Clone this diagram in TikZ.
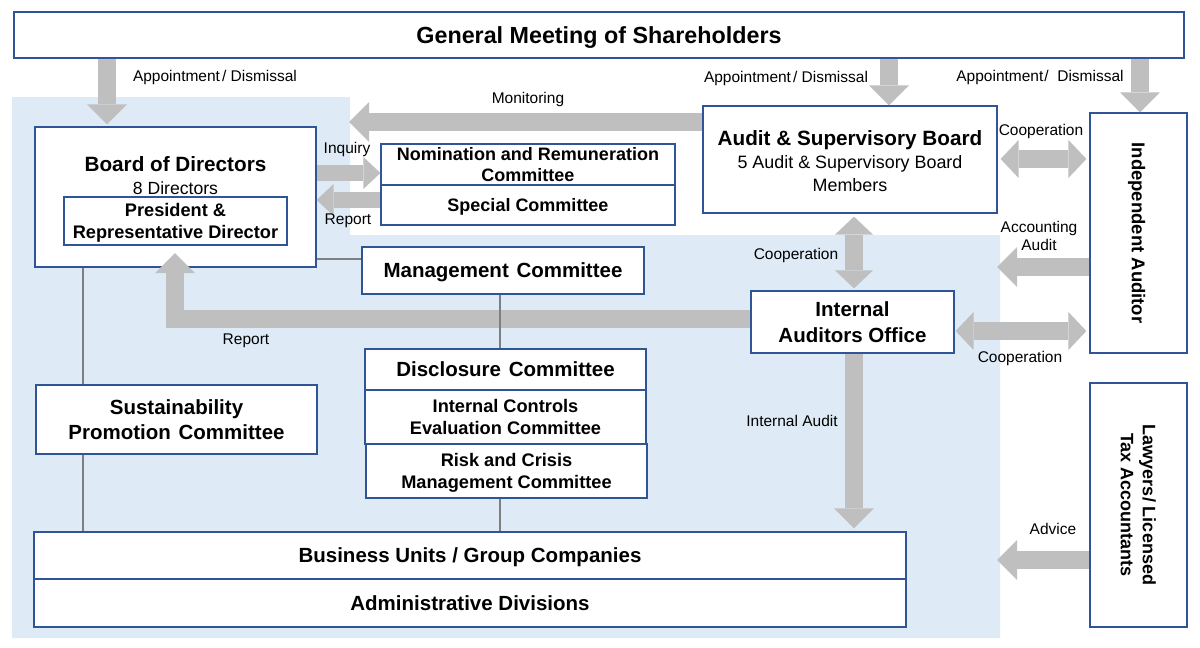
\documentclass[tikz,border=0pt]{standalone}
\usepackage{fontspec}
\setmainfont{Liberation Sans}
\usetikzlibrary{arrows.meta}
\definecolor{bgblue}{HTML}{DEEBF7}
\definecolor{agray}{HTML}{BFBFBF}
\definecolor{lgray}{HTML}{7F7F7F}
\definecolor{navy}{HTML}{2F5597}
\tikzset{
  box/.style={draw=navy, line width=1.2pt, fill=white, inner sep=0pt, align=center, text depth=0pt},
  bigarr/.style={draw=agray, line width=18pt, line join=miter, -{Triangle[length=20pt,width=40pt,line width=0pt]}},
  dblarr/.style={draw=agray, line width=18pt, {Triangle[length=18pt,width=38pt,line width=0pt]}-{Triangle[length=18pt,width=38pt,line width=0pt]}},
  smallarr/.style={draw=agray, line width=16pt, -{Triangle[length=17pt,width=32pt,line width=0pt]}},
  conn/.style={draw=lgray, line width=2.5pt},
  lab/.style={font=\fontsize{15.5}{18}\selectfont, inner sep=0pt, align=center, text depth=0pt},
  txt/.style={inner sep=0pt, align=center, text depth=0pt},
  b23/.style={txt, font=\bfseries\fontsize{23.3}{27}\selectfont},
  b21/.style={txt, font=\bfseries\fontsize{20.7}{25}\selectfont},
  b20/.style={font=\bfseries\fontsize{20.5}{24}\selectfont},
  b18/.style={txt, font=\bfseries\fontsize{18.5}{22}\selectfont},
  b18m/.style={font=\bfseries\fontsize{18.2}{22}\selectfont},
  r18/.style={txt, font=\fontsize{17.9}{23}\selectfont},
  r17/.style={txt, font=\fontsize{17.6}{20}\selectfont},
}
\begin{document}
\begin{tikzpicture}[x=1pt,y=-1pt]
\useasboundingbox (0,0) rectangle (1200,648);
\fill[white] (0,0) rectangle (1200,648);
% background region
\fill[bgblue] (12,97) -- (350,97) -- (350,235) -- (1000,235) -- (1000,638) -- (12,638) -- cycle;

% boxes
\node[box, minimum width=1170pt, minimum height=46pt] (gm) at (599,35) {};
\node[b23] (gmt) at (599,35) {General Meeting of Shareholders};

\node[box, minimum width=281pt, minimum height=140pt] (board) at (175.5,197) {};
\node[b21] (boardt) at (175.5,164) {Board of Directors};
\node[r17] (boardn) at (175.5,188) {8 Directors};
\node[box, b18m, minimum width=223pt, minimum height=48pt] (pres) at (175.5,221) {President \&\\Representative Director};

\node[box, font=\bfseries\fontsize{18}{21}\selectfont, minimum width=294pt, minimum height=41pt] (nom) at (528,164.5) {Nomination and Remuneration\\Committee};
\node[box, font=\bfseries\fontsize{18}{21}\selectfont, minimum width=294pt, minimum height=40pt] (spec) at (528,205) {Special Committee};

\node[box, minimum width=294pt, minimum height=107pt] (asb) at (850,159.5) {};
\node[b21] (asbt) at (850,138) {Audit \& Supervisory Board};
\node[r18] (asbs) at (850,173.5) {5 Audit \& Supervisory Board\\Members};

\node[box, minimum width=97pt, minimum height=240pt] (ia) at (1138.5,233) {};
\node[b18, rotate=-90] (iat) at (1138.5,233) {Independent Auditor};

\node[box, font=\bfseries\fontsize{20.5}{26}\selectfont, minimum width=203pt, minimum height=62pt] (iao) at (852.5,322) {Internal\\Auditors Office};

\node[box, b20, minimum width=282pt, minimum height=47pt] (mgmt) at (503,270.5) {Management\hspace{2pt} Committee};

\node[box, b20, minimum width=281pt, minimum height=41pt] (disc) at (505.5,369.5) {Disclosure\hspace{2pt} Committee};
\node[box, b18m, minimum width=281pt, minimum height=54pt] (icec) at (505.5,417) {Internal Controls\\Evaluation Committee};
\node[box, b18m, minimum width=281pt, minimum height=54pt] (risk) at (506.5,471) {Risk and Crisis\\Management Committee};

\node[box, font=\bfseries\fontsize{20.5}{25}\selectfont, minimum width=281pt, minimum height=69pt] (sus) at (176.5,419.5) {Sustainability\\Promotion\hspace{2pt} Committee};

\node[box, b20, minimum width=872pt, minimum height=47pt] (bu) at (470,555.5) {Business Units / Group Companies};
\node[box, b20, minimum width=872pt, minimum height=48pt] (ad) at (470,603) {Administrative Divisions};

\node[box, minimum width=97pt, minimum height=244pt] (law) at (1138.5,505) {};
\node[txt, font=\bfseries\fontsize{18}{22}\selectfont, rotate=-90] (lawt) at (1138.5,505) {Lawyers/ Licensed\\Tax Accountants};

% helper coordinates
\coordinate (xa) at (107,0);
\coordinate (xb) at (889,0);
\coordinate (xc) at (1140,0);
\coordinate (xv) at (854,0);
\coordinate (monend) at (349,122);
\coordinate (yinq) at (0,173);
\coordinate (yrep) at (0,200);
\coordinate (yc1) at (0,159);
\coordinate (accend) at (997,267);
\coordinate (yc2) at (0,331);
\coordinate (yr2) at (0,319);
\coordinate (repend) at (175,253);
\coordinate (advend) at (997,560);
\coordinate (xl) at (83,0);
\coordinate (xm) at (500,0);
\coordinate (yl) at (0,259);

% arrows
\draw[bigarr] (gm.south -| xa) -- ([yshift=2pt]board.north -| xa);
\draw[bigarr] (gm.south -| xb) -- (asb.north -| xb);
\draw[bigarr] (gm.south -| xc) -- (ia.north -| xc);
\draw[bigarr] (asb.west |- monend) -- (monend);
\draw[smallarr] (board.east |- yinq) -- (nom.west |- yinq);
\draw[smallarr] (spec.west |- yrep) -- (board.east |- yrep);
\draw[dblarr, shorten <=3pt, shorten >=3pt] (asb.east |- yc1) -- (ia.west |- yc1);
\draw[dblarr, shorten <=3pt, shorten >=2pt] (asb.south -| xv) -- (iao.north -| xv);
\draw[bigarr] (ia.west |- accend) -- (accend);
\draw[dblarr, shorten <=1pt, shorten >=3pt] (iao.east |- yc2) -- (ia.west |- yc2);
\draw[bigarr] (iao.west |- yr2) -| (repend);
\draw[bigarr, shorten >=3pt] (iao.south -| xv) -- (bu.north -| xv);
\draw[bigarr] (law.west |- advend) -- (advend);

% connectors
\draw[conn] (board.south -| xl) -- (sus.north -| xl);
\draw[conn] (sus.south -| xl) -- (bu.north -| xl);
\draw[conn] (board.east |- yl) -- (mgmt.west |- yl);
\draw[conn] (mgmt.south -| xm) -- (disc.north -| xm);
\draw[conn] (risk.south -| xm) -- (bu.north -| xm);

% labels
\node[lab] (l1) at (215,76) {Appointment\hspace{2pt}/ Dismissal};
\node[lab] (l2) at (786,77) {Appointment\hspace{2pt}/ Dismissal};
\node[lab] (l3) at (1040,76) {Appointment\hspace{1pt}/\ \ Dismissal};
\node[lab] (lmon) at (528,98) {Monitoring};
\node[lab] (linq) at (347,148) {Inquiry};
\node[lab] (lrep) at (348,219) {Report};
\node[lab] (lc1) at (1041,130) {Cooperation};
\node[lab] (lacc) at (1039,236) {Accounting\\Audit};
\node[lab] (lc2) at (796,254) {Cooperation};
\node[lab] (lc3) at (1020,357) {Cooperation};
\node[lab] (lrep2) at (246,339) {Report};
\node[lab] (lia) at (792,421) {Internal Audit};
\node[lab] (ladv) at (1053,529) {Advice};
\end{tikzpicture}
\end{document}
